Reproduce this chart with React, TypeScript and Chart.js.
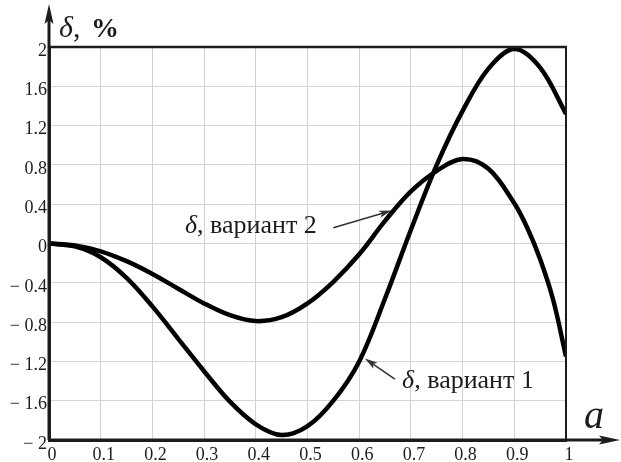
import React, { useEffect, useRef } from "react";
import { Chart, registerables } from "chart.js";

Chart.register(...registerables);

// ---- data ----
const aVariant1 = [0, 0.05, 0.1, 0.15, 0.2, 0.25, 0.3, 0.35, 0.4, 0.45, 0.5, 0.55, 0.6, 0.65, 0.7, 0.75, 0.8, 0.85, 0.9, 0.95, 1.0];
const deltaVariant1 = [0, -0.03, -0.14, -0.35, -0.64, -0.97, -1.3, -1.61, -1.84, -1.95, -1.86, -1.6, -1.2, -0.56, 0.14, 0.8, 1.35, 1.78, 1.98, 1.79, 1.32];

const aVariant2 = [0, 0.05, 0.1, 0.15, 0.2, 0.25, 0.3, 0.35, 0.4, 0.45, 0.5, 0.55, 0.6, 0.65, 0.7, 0.75, 0.8, 0.85, 0.9, 0.925, 0.95, 0.975, 1.0];
const deltaVariant2 = [0, -0.02, -0.08, -0.18, -0.31, -0.46, -0.61, -0.73, -0.79, -0.75, -0.61, -0.39, -0.11, 0.23, 0.53, 0.74, 0.86, 0.76, 0.41, 0.16, -0.16, -0.57, -1.15];

const xTickValues = [0, 0.1, 0.2, 0.3, 0.4, 0.5, 0.6, 0.7, 0.8, 0.9, 1];
const xTickLabels = ["0", "0.1", "0.2", "0.3", "0.4", "0.5", "0.6", "0.7", "0.8", "0.9", "1"];
const yTickValues = [-2, -1.6, -1.2, -0.8, -0.4, 0, 0.4, 0.8, 1.2, 1.6, 2];
const yTickLabels = ["\u2212 2", "\u2212 1.6", "\u2212 1.2", "\u2212 0.8", "\u2212 0.4", "0", "0.4", "0.8", "1.2", "1.6", "2"];

const seriesNames = ["вариант 1", "вариант 2"];
// annotation anchors in data units: text start / baseline, arrow tail, arrow tip
const noteTextA = [0.683, 0.263];
const noteTextV = [-1.47, 0.11];
const noteTailA = [0.669, 0.55];
const noteTailV = [-1.38, 0.16];
const noteTipA = [0.611, 0.663];
const noteTipV = [-1.17, 0.335];

const SERIF = "'Liberation Serif', 'Times New Roman', serif";
const INK = "#1c1c1c";

function arrowHead(ctx: CanvasRenderingContext2D, x1: number, y1: number, x2: number, y2: number, len: number, half: number) {
  const ang = Math.atan2(y2 - y1, x2 - x1);
  const bx = x2 - Math.cos(ang) * len;
  const by = y2 - Math.sin(ang) * len;
  const nx = -Math.sin(ang) * half;
  const ny = Math.cos(ang) * half;
  const mx = x2 - Math.cos(ang) * len * 0.75;
  const my = y2 - Math.sin(ang) * len * 0.75;
  ctx.beginPath();
  ctx.moveTo(x2, y2);
  ctx.lineTo(bx + nx, by + ny);
  ctx.lineTo(mx, my);
  ctx.lineTo(bx - nx, by - ny);
  ctx.closePath();
  ctx.fill();
}

const overlay = {
  id: "overlay",
  afterDraw(chart: any) {
    const { ctx, chartArea: ca, scales } = chart;
    const xs = scales.x;
    const ys = scales.y;
    ctx.save();
    ctx.strokeStyle = INK;
    ctx.fillStyle = INK;
    ctx.lineCap = "butt";

    // frame top and right
    ctx.lineWidth = 2.5;
    ctx.beginPath();
    ctx.moveTo(ca.left, ca.top);
    ctx.lineTo(ca.right + 1, ca.top);
    ctx.stroke();
    ctx.lineWidth = 2;
    ctx.beginPath();
    ctx.moveTo(ca.right, ca.top);
    ctx.lineTo(ca.right, ca.bottom);
    ctx.stroke();

    // y axis arrow
    ctx.lineWidth = 3;
    ctx.beginPath();
    ctx.moveTo(ca.left, ca.bottom);
    ctx.lineTo(ca.left, 16);
    ctx.stroke();
    ctx.beginPath();
    ctx.moveTo(ca.left, 4);
    ctx.lineTo(ca.left - 4.5, 24);
    ctx.lineTo(ca.left, 20);
    ctx.lineTo(ca.left + 4.5, 24);
    ctx.closePath();
    ctx.fill();

    // x axis arrow
    ctx.beginPath();
    ctx.moveTo(ca.left, ca.bottom);
    ctx.lineTo(606, ca.bottom);
    ctx.stroke();
    ctx.beginPath();
    ctx.moveTo(620, ca.bottom);
    ctx.lineTo(599, ca.bottom - 4.5);
    ctx.lineTo(603, ca.bottom);
    ctx.lineTo(599, ca.bottom + 4.5);
    ctx.closePath();
    ctx.fill();

    // axis titles
    ctx.textBaseline = "alphabetic";
    ctx.textAlign = "left";
    ctx.font = `italic 30px ${SERIF}`;
    ctx.fillText("\u03b4", 59, 37);
    const dw = ctx.measureText("\u03b4").width;
    ctx.font = `30px ${SERIF}`;
    ctx.fillText(",", 59 + dw, 37);
    ctx.font = `bold 28px ${SERIF}`;
    ctx.fillText("%", 91, 37);

    ctx.font = `italic 40px ${SERIF}`;
    ctx.fillText("a", 584, 428);

    // annotations
    for (let i = 0; i < seriesNames.length; i++) {
      const tx = xs.getPixelForValue(noteTextA[i]);
      const ty = ys.getPixelForValue(noteTextV[i]);
      ctx.font = `italic 26px ${SERIF}`;
      ctx.fillText("\u03b4", tx, ty);
      const w1 = ctx.measureText("\u03b4").width;
      ctx.font = `26px ${SERIF}`;
      ctx.fillText(", " + seriesNames[i], tx + w1, ty);

      const x1 = xs.getPixelForValue(noteTailA[i]);
      const y1 = ys.getPixelForValue(noteTailV[i]);
      const x2 = xs.getPixelForValue(noteTipA[i]);
      const y2 = ys.getPixelForValue(noteTipV[i]);
      ctx.strokeStyle = "#333";
      ctx.fillStyle = "#333";
      ctx.lineWidth = 1.6;
      ctx.beginPath();
      ctx.moveTo(x1, y1);
      const ang = Math.atan2(y2 - y1, x2 - x1);
      ctx.lineTo(x2 - Math.cos(ang) * 6, y2 - Math.sin(ang) * 6);
      ctx.stroke();
      arrowHead(ctx, x1, y1, x2, y2, 13, 3.6);
      ctx.fillStyle = INK;
    }
    ctx.restore();
  },
};

export default function App() {
  const ref = useRef<HTMLCanvasElement | null>(null);

  useEffect(() => {
    if (!ref.current) return;
    const chart = new Chart(ref.current, {
      type: "line",
      data: {
        datasets: [
          {
            label: seriesNames[0],
            data: aVariant1.map((a, i) => ({ x: a, y: deltaVariant1[i] })),
            borderColor: "#000",
            borderWidth: 4.5,
            pointRadius: 0,
            tension: 0.35,
            fill: false,
          },
          {
            label: seriesNames[1],
            data: aVariant2.map((a, i) => ({ x: a, y: deltaVariant2[i] })),
            borderColor: "#000",
            borderWidth: 4.5,
            pointRadius: 0,
            tension: 0.35,
            fill: false,
          },
        ],
      },
      options: {
        animation: false,
        responsive: false,
        devicePixelRatio: 1,
        layout: { padding: { left: 0, right: 55, top: 47, bottom: 0 } },
        plugins: { legend: { display: false }, tooltip: { enabled: false } },
        scales: {
          x: {
            type: "linear",
            min: 0,
            max: 1,
            afterFit: (s: any) => {
              s.height = 22;
            },
            afterBuildTicks: (s: any) => {
              s.ticks = xTickValues.map((v) => ({ value: v }));
            },
            grid: { color: "#d3d3d3", lineWidth: 1, drawTicks: false },
            border: { display: true, color: INK, width: 3 },
            ticks: {
              color: INK,
              font: { family: SERIF, size: 18 },
              padding: 4,
              maxRotation: 0,
              autoSkip: false,
              labelOffset: 3,
              callback: (_v: any, i: number) => xTickLabels[i],
            },
          },
          y: {
            type: "linear",
            min: -2,
            max: 2,
            afterFit: (s: any) => {
              s.width = 49;
            },
            afterBuildTicks: (s: any) => {
              s.ticks = yTickValues.map((v) => ({ value: v }));
            },
            grid: { color: "#d3d3d3", lineWidth: 1, drawTicks: false },
            border: { display: true, color: INK, width: 3 },
            ticks: {
              color: INK,
              font: { family: SERIF, size: 18 },
              padding: 2,
              autoSkip: false,
              labelOffset: 4,
              callback: (_v: any, i: number) => yTickLabels[i],
            },
          },
        },
      },
      plugins: [overlay],
    } as any);
    return () => chart.destroy();
  }, []);

  return (
    <div style={{ position: "absolute", left: 0, top: 0, width: 621, height: 462, background: "#fff" }}>
      <canvas ref={ref} width={621} height={462} />
    </div>
  );
}
